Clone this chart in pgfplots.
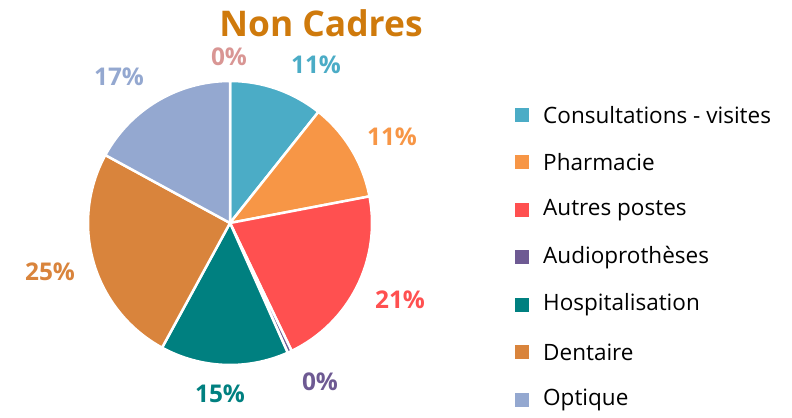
\documentclass[border=0pt]{standalone}
\usepackage{pgfplots}
\usepackage{pgfplotstable}
\pgfplotsset{compat=1.18}
\usepackage{fontspec}
\setmainfont{Open Sans}

\definecolor{cConsult}{HTML}{4BACC6}
\definecolor{cPharma}{HTML}{F79646}
\definecolor{cAutres}{HTML}{FF5050}
\definecolor{cAudio}{HTML}{6E5A93}
\definecolor{cHosp}{HTML}{008080}
\definecolor{cDent}{HTML}{D9843C}
\definecolor{cOpt}{HTML}{94A8D0}
\definecolor{cAutre2}{HTML}{D99694}
\definecolor{cTitle}{HTML}{CF7A0C}

% share of each post (%), label position in pixels (x, y from top), legend flag
\pgfplotstableread[col sep=comma]{
name,val,col,lx,ly,leg
Consultations - visites,10.7,cConsult,316,65,1
Pharmacie,11.3,cPharma,392,137,1
Autres postes,20.85,cAutres,400,300,1
Audioprothèses,0.49,cAudio,320,382,1
Hospitalisation,14.6,cHosp,220,394,1
Dentaire,25.0,cDent,50,272,1
Optique,17.06,cOpt,119,77,1
Autre,0,cAutre2,229,57,0
}\pietable

\tikzset{
  pielabel/.style={font=\bfseries\fontsize{24.5}{24.5}\selectfont, inner sep=0pt},
  legtext/.style={font=\fontsize{22.6}{22.6}\selectfont, anchor=west, inner sep=0pt},
}

\begin{document}
\begin{tikzpicture}
\pgfplotstablegetrowsof{\pietable}
\pgfmathtruncatemacro\nrows{\pgfplotsretval-1}
\begin{axis}[
  width=792bp, height=418bp, scale only axis,
  xmin=0, xmax=792, ymin=0, ymax=418,
  hide axis, clip=false,
]
\path (axis cs:0,0) rectangle (axis cs:792,418);
\def\cum{0}
\def\legrow{0}
\pgfplotsforeachungrouped \i in {0,...,\nrows}{%
  \pgfplotstablegetelem{\i}{name}\of\pietable \let\nm\pgfplotsretval
  \pgfplotstablegetelem{\i}{val}\of\pietable \let\v\pgfplotsretval
  \pgfplotstablegetelem{\i}{col}\of\pietable \let\c\pgfplotsretval
  \pgfplotstablegetelem{\i}{lx}\of\pietable \let\lx\pgfplotsretval
  \pgfplotstablegetelem{\i}{ly}\of\pietable \let\ly\pgfplotsretval
  \pgfplotstablegetelem{\i}{leg}\of\pietable \let\lg\pgfplotsretval
  \pgfmathsetmacro\aS{90-3.6*\cum}
  \pgfmathsetmacro\cum{\cum+\v}
  \pgfmathsetmacro\aE{90-3.6*\cum}
  \pgfmathtruncatemacro\lab{round(\v)}
  \pgfmathsetmacro\lyy{418-\ly}
  \ifdim\v pt>0.05pt
    \edef\temp{\noexpand\fill[\c, draw=white, line width=2.5bp, line join=round]
      (axis cs:230,195) -- ++(\aS:142bp) arc[start angle=\aS, end angle=\aE, radius=142bp] -- cycle;}
    \temp
  \fi
  \edef\temp{\noexpand\node[pielabel, text=\c] at (axis cs:\lx,\lyy) {\lab\noexpand\%};}
  \temp
  \ifnum\lg=1
    \pgfmathsetmacro\ry{418-(115+47.5*\legrow)}
    \pgfmathsetmacro\rb{\ry-7}
    \edef\temp{\noexpand\fill[\c] (axis cs:515,\rb) rectangle ++(14bp,14bp);
      \noexpand\node[legtext] at (axis cs:543,\ry) {\nm};}
    \temp
    \pgfmathtruncatemacro\legrow{\legrow+1}
  \fi
}
\node[font=\bfseries\fontsize{35.5}{35.5}\selectfont, text=cTitle] at (axis cs:321,395) {Non Cadres};
\end{axis}
\end{tikzpicture}
\end{document}
